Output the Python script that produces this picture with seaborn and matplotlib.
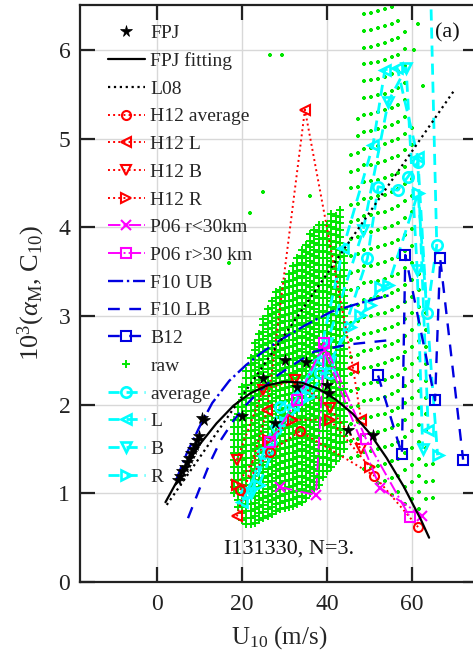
import numpy as np
import pandas as pd
import matplotlib
matplotlib.use("Agg")
import matplotlib.pyplot as plt
import seaborn as sns

# ---------------- data ----------------
fpj_x = [5, 5.5, 6, 6.5, 7, 7.5, 8, 8.5, 9, 9.5, 10, 10.6, 11, 20, 25, 27.8, 30, 33, 35, 40, 40.5, 45, 50.8]
fpj_y = [1.15, 1.2, 1.25, 1.3, 1.35, 1.4, 1.45, 1.5, 1.55, 1.6, 1.65, 1.85, 1.83, 1.87, 2.3, 1.79, 2.5, 2.2, 2.48, 2.22, 2.13, 1.72, 1.66]

fit_x = [2, 6, 10, 14, 18, 22, 26, 30, 34, 38, 42, 46, 50, 54, 58, 62, 64]
fit_y = [0.90, 1.25, 1.55, 1.79, 1.99, 2.13, 2.22, 2.26, 2.25, 2.18, 2.06, 1.90, 1.68, 1.40, 1.08, 0.71, 0.50]

l08_x = [2.3, 70.1]
l08_y = [0.87, 5.56]

h12_avg_x = [19.5, 26.6, 33.6, 51.1, 61.4]
h12_avg_y = [1.04, 1.47, 1.70, 1.20, 0.62]
h12_l_x = [18.8, 25.9, 34.8, 46.1, 48.0]
h12_l_y = [0.74, 1.94, 5.33, 2.42, 1.83]
h12_b_x = [18.8, 25.0, 32.5, 40.7, 48.0]
h12_b_y = [1.38, 2.17, 2.28, 1.96, 1.50]
h12_r_x = [18.8, 26.0, 32.0, 40.7, 50.0]
h12_r_y = [1.10, 1.60, 1.83, 1.83, 1.30]

p06a_x = [29.0, 37.4, 39.3, 52.5, 62.4]
p06a_y = [1.07, 0.98, 2.62, 1.06, 0.75]
p06b_x = [26.6, 33.0, 39.3, 49.2, 59.5]
p06b_y = [1.58, 2.05, 2.70, 1.61, 0.73]

f10ub_x = [4.5, 7, 10, 13, 17, 21, 25, 29, 35, 41, 48, 55]
f10ub_y = [1.15, 1.45, 1.75, 2.02, 2.27, 2.45, 2.60, 2.73, 2.90, 3.05, 3.15, 3.24]
f10lb_x = [7.3, 10, 12.5, 15, 18, 21, 24, 28, 32, 37, 45, 55]
f10lb_y = [0.72, 1.05, 1.35, 1.60, 1.82, 2.00, 2.15, 2.32, 2.45, 2.60, 2.68, 2.73]

b12_x = [52.0, 57.6, 58.4, 65.4, 66.6, 72.0]
b12_y = [2.33, 1.44, 3.69, 2.05, 3.65, 1.38]

# raw wind-speed columns: envelope (low, high) of the dense grid of samples
raw_dense_x = [18, 19, 20, 21, 22, 23, 24, 25, 26, 27, 28, 29, 30, 31, 32, 33, 34, 35,
               36, 37, 38, 39, 40, 41, 42, 43, 44]
raw_dense_lo = [1.0, 0.85, 0.7, 0.65, 0.65, 0.67, 0.7, 0.72, 0.75, 0.77, 0.8, 0.82, 0.84, 0.85,
                0.86, 0.88, 0.9, 0.95, 1.0, 1.05, 1.1, 1.18, 1.25, 1.3, 1.36, 1.42, 1.5]
raw_dense_hi = [1.9, 2.05, 2.2, 2.4, 2.55, 2.7, 2.85, 3.0, 3.1, 3.2, 3.3, 3.35, 3.45, 3.5,
                3.6, 3.7, 3.8, 3.85, 3.95, 4.0, 4.05, 4.1, 4.1, 4.15, 4.2, 4.2, 3.8]
raw_sparse_x = [45.6, 47.2, 48.8, 50.4, 52.0, 53.6, 55.2, 56.8, 58.4, 60.0, 61.6, 63.2, 64.8]
raw_sparse_lo = [1.40, 1.33, 1.28, 1.20, 1.12, 1.05, 0.98, 0.92, 0.88, 0.85, 0.82, 0.85, 0.95]
raw_sparse_hi = [4.9, 5.4, 6.5, 6.5, 6.5, 6.5, 6.5, 6.5, 6.3, 5.2, 3.6, 3.2, 1.5]
raw_iso_x = [26.6, 29.4, 21.9, 36.0, 17.0, 25.0, 61.5, 62.6, 60.5]
raw_iso_y = [5.95, 5.95, 4.16, 4.35, 3.6, 4.4, 6.3, 5.6, 6.0]

avg_x = [21, 25, 29, 34, 38.4, 40.7, 49.5, 52, 56.6, 59, 61.4, 63.5, 65.8, 64.2]
avg_y = [1.0, 1.45, 1.98, 2.2, 2.36, 2.36, 3.65, 4.46, 4.42, 4.57, 4.74, 3.03, 3.8, 7.0]
cl_x = [20, 26, 32, 38, 43.8, 50.8, 53.6, 56.5, 61.3, 63.8]
cl_y = [0.9, 1.5, 2.0, 2.5, 3.77, 4.93, 5.78, 5.80, 4.8, 1.72]
cb_x = [22, 28, 34, 40, 48.5, 54.4, 58.6, 61.2, 62.5]
cb_y = [1.0, 1.7, 2.2, 2.7, 3.97, 5.42, 5.8, 3.52, 1.5]
cr_x = [24, 30, 36, 45.4, 47.8, 50, 52.5, 54.4, 61.4, 66]
cr_y = [1.1, 1.8, 2.1, 2.88, 3.01, 3.13, 3.33, 3.35, 4.39, 1.43]

# ---------------- style ----------------
sns.set_theme(style="ticks")
plt.rcParams["font.family"] = ["Liberation Serif", "DejaVu Serif"]
plt.rcParams["mathtext.fontset"] = "custom"
plt.rcParams["mathtext.rm"] = "Liberation Serif"
plt.rcParams["mathtext.it"] = "Liberation Serif:italic"
plt.rcParams["mathtext.bf"] = "Liberation Serif:bold"

fig = plt.figure(figsize=(4.73, 6.62), dpi=100)
ax = fig.add_axes([80 / 473, 80 / 662, 398 / 473, 577 / 662])

RED = "#ff0000"
MAG = "#ff00ff"
BLUE = "#0000e0"
CYAN = "#00ffff"
GREEN = "#00e600"


def line(x, y, label, color, **kw):
    kw.setdefault("markeredgecolor", color)
    sns.lineplot(x=x, y=y, ax=ax, sort=False, estimator=None, label=label,
                 color=color, **kw)


# raw samples
rx, ry = [], []
for x0, lo, hi in zip(raw_dense_x, raw_dense_lo, raw_dense_hi):
    ys = np.arange(lo, hi, 0.075)
    rx += [x0] * len(ys)
    ry += list(ys)
sx, sy = [], []
for i, (x0, lo, hi) in enumerate(zip(raw_sparse_x, raw_sparse_lo, raw_sparse_hi)):
    ys = np.arange(lo + 0.09 * (i % 2), hi, 0.19)
    sx += [x0] * len(ys)
    sy += list(ys)
sx += raw_iso_x
sy += raw_iso_y

line(rx, ry, "raw", GREEN, linestyle="none", marker="+", markersize=5.5,
     markeredgewidth=1.4, zorder=2)
line(sx, sy, None, GREEN, linestyle="none", marker="+", markersize=2.5,
     markeredgewidth=1.6, zorder=2)

mk = dict(markerfacecolor="none", markersize=6.5, markeredgewidth=1.5)
mkc = dict(markerfacecolor="none", markersize=7.5, markeredgewidth=1.9)
lw = 1.4
cls = (0, (4, 2.5))

line(fpj_x, fpj_y, "FPJ", "black", linestyle="none", marker="*", markersize=8.5,
     markeredgewidth=0.5, zorder=9)
line(fit_x, fit_y, "FPJ fitting", "black", linewidth=1.6, zorder=8)
line(l08_x, l08_y, "L08", "black", linestyle=":", linewidth=1.6, zorder=7)
line(h12_avg_x, h12_avg_y, "H12 average", RED, linestyle=":", linewidth=lw, marker="o", zorder=6, **mk)
line(h12_l_x, h12_l_y, "H12 L", RED, linestyle=":", linewidth=lw, marker="<", zorder=6, **mk)
line(h12_b_x, h12_b_y, "H12 B", RED, linestyle=":", linewidth=lw, marker="v", zorder=6, **mk)
line(h12_r_x, h12_r_y, "H12 R", RED, linestyle=":", linewidth=lw, marker=">", zorder=6, **mk)
line(p06a_x, p06a_y, "P06 r<30km", MAG, linestyle="-.", linewidth=lw, marker="x", zorder=6, **mk)
line(p06b_x, p06b_y, "P06 r>30 km", MAG, linestyle="-.", linewidth=lw, marker="s", zorder=6, **mk)
line(f10ub_x, f10ub_y, "F10 UB", BLUE, linestyle="-.", linewidth=1.7, zorder=6)
line(f10lb_x, f10lb_y, "F10 LB", BLUE, linestyle=(0, (5, 4)), linewidth=1.7, zorder=6)
line(b12_x, b12_y, "B12", BLUE, linestyle=(0, (5, 4)), linewidth=1.7, marker="s", zorder=6, **mk)
line(avg_x, avg_y, "average", CYAN, linestyle=cls, linewidth=2.0, marker="o", zorder=5, **mkc)
line(cl_x, cl_y, "L", CYAN, linestyle=cls, linewidth=2.0, marker="<", zorder=5, **mkc)
line(cb_x, cb_y, "B", CYAN, linestyle=cls, linewidth=2.0, marker="v", zorder=5, **mkc)
line(cr_x, cr_y, "R", CYAN, linestyle=cls, linewidth=2.0, marker=">", zorder=5, **mkc)

ax.set_xlim(-18.1, 75.5)
ax.set_ylim(0, 6.51)
ax.set_xticks([0, 20, 40, 60])
ax.set_yticks([0, 1, 2, 3, 4, 5, 6])
ax.grid(True, color="#d8d8d8", linewidth=1.0, zorder=0)
ax.set_axisbelow(True)
ax.tick_params(direction="in", length=11, width=1.6, top=True, right=True,
               labelsize=17, colors="#222222")
ax.tick_params(axis="x", pad=9)
ax.tick_params(axis="y", pad=7)
for s in ax.spines.values():
    s.set_linewidth(1.6)
    s.set_color("#222222")

ax.set_xlabel("U$_{10}$ (m/s)", fontsize=18, labelpad=6)
ax.set_ylabel("10$^3$($\\alpha_{\\rm M}$, C$_{10}$)", fontsize=19, labelpad=8)

ax.text(31, 0.37, "I131330, N=3.", fontsize=16, ha="center", va="center", color="#111111")
ax.text(68.2, 6.2, "(a)", fontsize=16, ha="center", va="center", color="#111111")

handles, labels = ax.get_legend_handles_labels()
order = ["FPJ", "FPJ fitting", "L08", "H12 average", "H12 L", "H12 B", "H12 R",
         "P06 r<30km", "P06 r>30 km", "F10 UB", "F10 LB", "B12", "raw",
         "average", "L", "B", "R"]
hmap = dict(zip(labels, handles))
leg = ax.legend([hmap[k] for k in order], order, loc="upper left",
                bbox_to_anchor=(0.05, 0.98), frameon=False, fontsize=14,
                handlelength=1.9, handletextpad=0.3, labelspacing=0.52,
                borderaxespad=0.0, numpoints=1)

fig.savefig("out.png", dpi=100)
